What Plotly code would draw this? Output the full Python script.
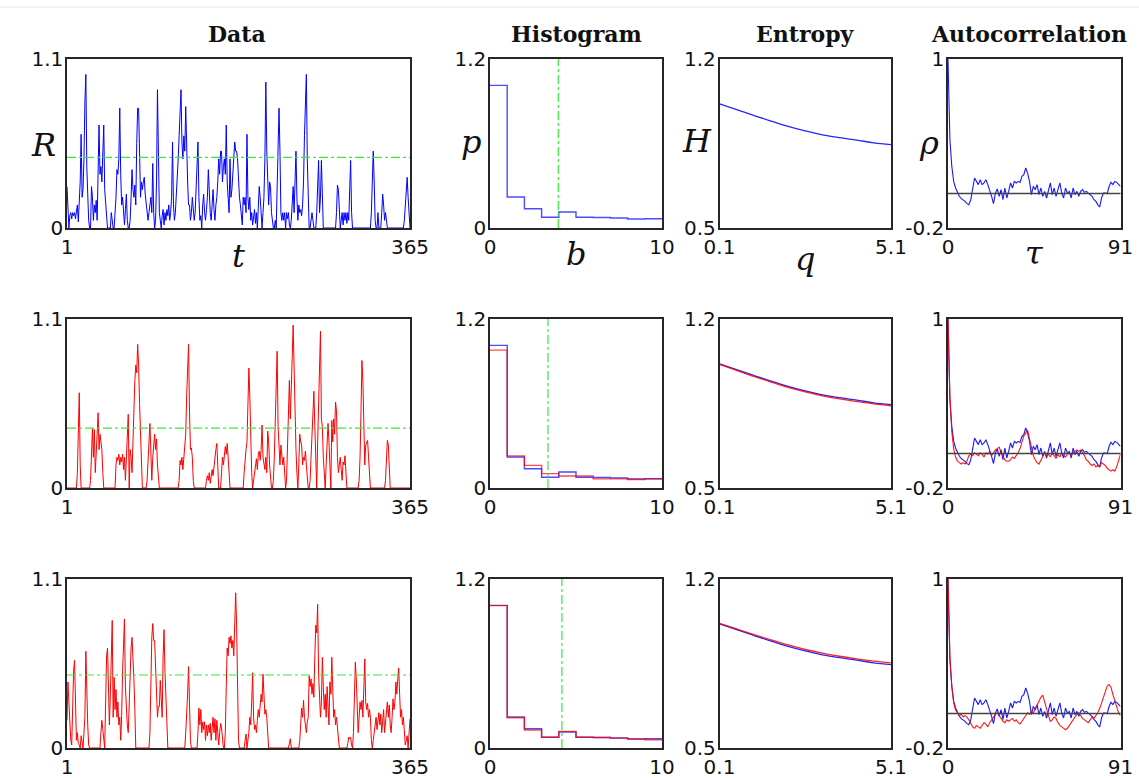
import plotly.graph_objects as go

W, H = 1139, 778

# ---------------- data ----------------
days = list(range(1, 366))

R_observed = [
    0.27, 0.05, 0.0, 0.08, 0.10, 0.06, 0.10, 0.08, 0.10, 0.06,
    0.10, 0.15, 0.04, 0.18, 0.30, 0.61, 0.20, 0.25, 0.45, 0.82,
    1.00, 0.40, 0.15, 0.05, 0.0, 0.0, 0.27, 0.20, 0.05, 0.15,
    0.10, 0.18, 0.05, 0.30, 0.67, 0.35, 0.40, 0.30, 0.55, 0.67,
    0.25, 0.15, 0.05, 0.0, 0.0, 0.0, 0.0, 0.10, 0.02, 0.0,
    0.0, 0.08, 0.20, 0.38, 0.35, 0.45, 0.78, 0.35, 0.15, 0.20,
    0.10, 0.02, 0.12, 0.22, 0.05, 0.0, 0.0, 0.05, 0.20, 0.38,
    0.25, 0.20, 0.28, 0.15, 0.55, 0.78, 0.78, 0.35, 0.20, 0.30,
    0.25, 0.30, 0.33, 0.22, 0.15, 0.10, 0.05, 0.10, 0.15, 0.20,
    0.10, 0.42, 0.10, 0.0, 0.05, 0.30, 0.90, 0.45, 0.10, 0.05,
    0.0, 0.08, 0.12, 0.02, 0.10, 0.05, 0.12, 0.08, 0.15, 0.05,
    0.10, 0.20, 0.56, 0.15, 0.05, 0.10, 0.20, 0.30, 0.45, 0.60,
    0.75, 0.90, 0.55, 0.45, 0.60, 0.50, 0.79, 0.40, 0.30, 0.15,
    0.15, 0.05, 0.10, 0.20, 0.12, 0.05, 0.10, 0.30, 0.45, 0.56,
    0.20, 0.05, 0.08, 0.0, 0.15, 0.22, 0.10, 0.05, 0.12, 0.20,
    0.38, 0.15, 0.10, 0.05, 0.15, 0.25, 0.12, 0.05, 0.15, 0.20,
    0.30, 0.45, 0.35, 0.50, 0.50, 0.30, 0.40, 0.45, 0.35, 0.67,
    0.30, 0.20, 0.10, 0.45, 0.20, 0.25, 0.35, 0.45, 0.56, 0.50,
    0.50, 0.45, 0.30, 0.20, 0.15, 0.10, 0.02, 0.20, 0.15, 0.20,
    0.10, 0.61, 0.20, 0.12, 0.20, 0.05, 0.10, 0.02, 0.08, 0.12,
    0.03, 0.10, 0.0, 0.15, 0.27, 0.20, 0.05, 0.0, 0.10, 0.20,
    0.45, 0.95, 0.50, 0.25, 0.15, 0.30, 0.27, 0.10, 0.02, 0.0,
    0.0, 0.05, 0.0, 0.30, 0.60, 0.78, 0.50, 0.10, 0.05, 0.10,
    0.05, 0.10, 0.0, 0.10, 0.06, 0.10, 0.02, 0.0, 0.05, 0.15,
    0.27, 0.10, 0.30, 0.50, 0.20, 0.05, 0.15, 0.10, 0.12, 0.08,
    0.15, 0.30, 0.60, 0.85, 1.00, 0.45, 0.10, 0.0, 0.0, 0.05,
    0.10, 0.05, 0.0, 0.0, 0.0, 0.10, 0.30, 0.44, 0.10, 0.20,
    0.44, 0.10, 0.0, 0.0, 0.0, 0.0, 0.0, 0.0, 0.0, 0.0,
    0.0, 0.0, 0.0, 0.0, 0.0, 0.0, 0.10, 0.28, 0.25, 0.12,
    0.0, 0.05, 0.10, 0.02, 0.10, 0.05, 0.10, 0.03, 0.10, 0.05,
    0.20, 0.44, 0.10, 0.0, 0.0, 0.0, 0.0, 0.0, 0.0, 0.0,
    0.0, 0.0, 0.0, 0.0, 0.0, 0.0, 0.0, 0.0, 0.0, 0.0,
    0.0, 0.0, 0.0, 0.10, 0.30, 0.50, 0.30, 0.05, 0.0, 0.0,
    0.10, 0.0, 0.0, 0.0, 0.10, 0.22, 0.15, 0.05, 0.10, 0.02,
    0.0, 0.0, 0.0, 0.0, 0.0, 0.0, 0.0, 0.0, 0.0, 0.0,
    0.0, 0.0, 0.0, 0.0, 0.0, 0.0, 0.0, 0.0, 0.05, 0.15,
    0.30, 0.33, 0.20, 0.05, 0.0,
]

R_surrogate_1 = [
    0.0, 0.0, 0.0, 0.0, 0.0, 0.0, 0.0, 0.0, 0.0, 0.0,
    0.0, 0.10, 0.40, 0.62, 0.15, 0.0, 0.0, 0.0, 0.0, 0.0,
    0.0, 0.0, 0.0, 0.0, 0.0, 0.05, 0.30, 0.39, 0.20, 0.38,
    0.10, 0.30, 0.35, 0.49, 0.25, 0.35, 0.30, 0.25, 0.10, 0.0,
    0.0, 0.0, 0.0, 0.0, 0.0, 0.0, 0.0, 0.0, 0.0, 0.0,
    0.0, 0.0, 0.15, 0.20, 0.18, 0.22, 0.15, 0.20, 0.17, 0.22,
    0.12, 0.20, 0.05, 0.20, 0.35, 0.48, 0.0, 0.25, 0.20, 0.10,
    0.30, 0.55, 0.70, 0.80, 0.75, 0.935, 0.80, 0.55, 0.35, 0.10,
    0.0, 0.0, 0.0, 0.0, 0.0, 0.05, 0.25, 0.30, 0.42, 0.20,
    0.05, 0.20, 0.30, 0.35, 0.25, 0.32, 0.15, 0.05, 0.0, 0.0,
    0.0, 0.0, 0.0, 0.0, 0.0, 0.0, 0.0, 0.0, 0.0, 0.0,
    0.0, 0.0, 0.0, 0.0, 0.0, 0.0, 0.0, 0.0, 0.0, 0.05,
    0.18, 0.15, 0.20, 0.12, 0.20, 0.28, 0.35, 0.60, 0.85, 0.935,
    0.50, 0.25, 0.26, 0.20, 0.05, 0.0, 0.0, 0.0, 0.0, 0.0,
    0.0, 0.0, 0.0, 0.0, 0.0, 0.0, 0.0, 0.0, 0.05, 0.08,
    0.05, 0.10, 0.03, 0.10, 0.12, 0.08, 0.15, 0.20, 0.25, 0.29,
    0.10, 0.0, 0.0, 0.0, 0.10, 0.20, 0.15, 0.25, 0.27, 0.22,
    0.29, 0.20, 0.10, 0.0, 0.0, 0.0, 0.0, 0.0, 0.0, 0.0,
    0.0, 0.0, 0.0, 0.0, 0.0, 0.0, 0.0, 0.0, 0.10, 0.20,
    0.25, 0.30, 0.55, 0.78, 0.60, 0.30, 0.10, 0.0, 0.05, 0.10,
    0.15, 0.19, 0.12, 0.22, 0.24, 0.18, 0.25, 0.41, 0.20, 0.15,
    0.12, 0.20, 0.10, 0.37, 0.30, 0.15, 0.05, 0.0, 0.0, 0.05,
    0.20, 0.45, 0.70, 0.89, 0.40, 0.25, 0.15, 0.28, 0.20, 0.15,
    0.20, 0.05, 0.0, 0.05, 0.30, 0.55, 0.70, 0.45, 0.60, 0.85,
    1.06, 0.70, 0.35, 0.25, 0.10, 0.0, 0.15, 0.35, 0.30, 0.28,
    0.15, 0.20, 0.18, 0.24, 0.15, 0.05, 0.0, 0.0, 0.05, 0.20,
    0.35, 0.50, 0.63, 0.40, 0.10, 0.0, 0.30, 0.60, 0.85, 1.02,
    0.45, 0.40, 0.20, 0.05, 0.0, 0.15, 0.35, 0.42, 0.30, 0.10,
    0.0, 0.44, 0.30, 0.45, 0.35, 0.56, 0.50, 0.20, 0.10, 0.15,
    0.20, 0.12, 0.05, 0.17, 0.15, 0.21, 0.10, 0.0, 0.0, 0.0,
    0.0, 0.0, 0.0, 0.0, 0.0, 0.0, 0.0, 0.0, 0.0, 0.0,
    0.05, 0.20, 0.50, 0.83, 0.70, 0.30, 0.15, 0.28, 0.30, 0.31,
    0.20, 0.05, 0.0, 0.0, 0.0, 0.0, 0.0, 0.0, 0.0, 0.0,
    0.0, 0.0, 0.0, 0.0, 0.0, 0.0, 0.0, 0.0, 0.05, 0.20,
    0.31, 0.28, 0.15, 0.0, 0.0, 0.0, 0.0, 0.0, 0.0, 0.0,
    0.0, 0.0, 0.0, 0.0, 0.0, 0.0, 0.0, 0.0, 0.0, 0.0,
    0.0, 0.0, 0.0, 0.0, 0.0,
]

R_surrogate_2 = [
    0.18, 0.43, 0.30, 0.12, 0.05, 0.02, 0.30, 0.50, 0.57, 0.30,
    0.05, 0.10, 0.03, 0.02, 0.0, 0.08, 0.05, 0.0, 0.10, 0.20,
    0.63, 0.35, 0.15, 0.02, 0.0, 0.0, 0.0, 0.0, 0.0, 0.0,
    0.0, 0.0, 0.0, 0.0, 0.0, 0.0, 0.10, 0.18, 0.12, 0.05,
    0.0, 0.30, 0.60, 0.65, 0.30, 0.15, 0.35, 0.60, 0.83, 0.20,
    0.46, 0.25, 0.38, 0.20, 0.30, 0.15, 0.20, 0.05, 0.21, 0.50,
    0.75, 0.84, 0.40, 0.20, 0.15, 0.10, 0.30, 0.55, 0.65, 0.72,
    0.50, 0.45, 0.25, 0.0, 0.0, 0.0, 0.0, 0.0, 0.0, 0.0,
    0.0, 0.0, 0.0, 0.0, 0.0, 0.0, 0.0, 0.0, 0.10, 0.50,
    0.72, 0.81, 0.70, 0.70, 0.50, 0.30, 0.20, 0.27, 0.27, 0.44,
    0.30, 0.20, 0.60, 0.77, 0.49, 0.30, 0.05, 0.0, 0.0, 0.0,
    0.0, 0.0, 0.0, 0.0, 0.0, 0.0, 0.0, 0.0, 0.0, 0.0,
    0.0, 0.0, 0.0, 0.0, 0.0, 0.0, 0.10, 0.19, 0.35, 0.53,
    0.20, 0.05, 0.0, 0.0, 0.0, 0.0, 0.0, 0.0, 0.0, 0.10,
    0.26, 0.15, 0.25, 0.10, 0.17, 0.12, 0.17, 0.05, 0.15, 0.08,
    0.15, 0.10, 0.16, 0.05, 0.12, 0.20, 0.10, 0.19, 0.05, 0.18,
    0.10, 0.02, 0.10, 0.16, 0.13, 0.05, 0.0, 0.0, 0.10, 0.40,
    0.65, 0.60, 0.72, 0.68, 0.73, 0.65, 0.70, 0.60, 0.85, 1.01,
    0.80, 0.50, 0.05, 0.0, 0.0, 0.0, 0.0, 0.0, 0.0, 0.05,
    0.09, 0.0, 0.05, 0.10, 0.20, 0.15, 0.30, 0.49, 0.20, 0.12,
    0.15, 0.10, 0.18, 0.25, 0.20, 0.30, 0.35, 0.30, 0.48, 0.35,
    0.22, 0.25, 0.20, 0.10, 0.0, 0.0, 0.0, 0.0, 0.0, 0.0,
    0.0, 0.0, 0.0, 0.0, 0.0, 0.0, 0.0, 0.0, 0.0, 0.0,
    0.0, 0.0, 0.0, 0.0, 0.0, 0.0, 0.03, 0.06, 0.0, 0.0,
    0.0, 0.0, 0.0, 0.0, 0.0, 0.0, 0.0, 0.05, 0.15, 0.26,
    0.20, 0.31, 0.20, 0.13, 0.10, 0.17, 0.20, 0.47, 0.40, 0.45,
    0.35, 0.42, 0.33, 0.60, 0.80, 0.75, 0.935, 0.48, 0.35, 0.20,
    0.30, 0.59, 0.40, 0.25, 0.35, 0.20, 0.40, 0.30, 0.15, 0.43,
    0.35, 0.59, 0.30, 0.20, 0.25, 0.15, 0.20, 0.12, 0.05, 0.0,
    0.0, 0.0, 0.0, 0.0, 0.0, 0.0, 0.0, 0.0, 0.03, 0.07,
    0.06, 0.07, 0.02, 0.0, 0.10, 0.35, 0.56, 0.45, 0.30, 0.10,
    0.20, 0.30, 0.25, 0.31, 0.20, 0.35, 0.58, 0.30, 0.25, 0.29,
    0.20, 0.25, 0.20, 0.05, 0.0, 0.05, 0.10, 0.15, 0.20, 0.12,
    0.18, 0.23, 0.15, 0.22, 0.10, 0.18, 0.25, 0.10, 0.17, 0.26,
    0.30, 0.20, 0.28, 0.15, 0.10, 0.20, 0.32, 0.25, 0.30, 0.43,
    0.35, 0.45, 0.52, 0.35, 0.20, 0.25, 0.15, 0.20, 0.10, 0.02,
    0.05, 0.08, 0.0, 0.12, 0.19,
]

R_threshold = [0.46, 0.39, 0.475]

bin_edges = [0, 1, 2, 3, 4, 5, 6, 7, 8, 9, 10]
p_observed = [1.013, 0.220, 0.137, 0.076, 0.114, 0.076, 0.075, 0.071, 0.064, 0.066]
p_surrogate_1 = [0.979, 0.228, 0.161, 0.102, 0.085, 0.085, 0.065, 0.065, 0.060, 0.065]
p_surrogate_2 = [1.011, 0.215, 0.128, 0.076, 0.118, 0.076, 0.075, 0.070, 0.064, 0.059]
b_marker = [3.97, 3.37, 4.18]

q_values = [0.1, 0.6, 1.1, 1.6, 2.1, 2.6, 3.1, 3.6, 4.1, 4.6, 5.1]
H_observed = [1.014, 0.990, 0.966, 0.943, 0.921, 0.902, 0.886, 0.874, 0.864, 0.853, 0.845]
H_surrogate_1 = [1.012, 0.987, 0.962, 0.939, 0.917, 0.898, 0.882, 0.869, 0.858, 0.848, 0.840]
H_surrogate_2 = [1.016, 0.993, 0.970, 0.948, 0.927, 0.908, 0.893, 0.880, 0.869, 0.860, 0.853]

lags = list(range(0, 92))
rho_observed = [
    1.0, 0.427, 0.238, 0.131, 0.084, 0.048, 0.025, 0.008, 0.001, -0.011,
    -0.027, -0.034, 0.0, 0.096, 0.155, 0.131, 0.108, 0.143, 0.108, 0.12,
    0.143, 0.108, 0.072, 0.025, -0.027, 0.048, 0.077, 0.025, 0.072, 0.001,
    0.084, 0.013, 0.06, 0.12, 0.084, 0.131, 0.12, 0.131, 0.124, 0.167,
    0.179, 0.226, 0.19, 0.131, 0.037, 0.096, 0.072, 0.108, 0.037, 0.084,
    0.025, 0.06, 0.013, 0.072, 0.12, 0.037, 0.084, 0.025, 0.072, 0.12,
    0.048, 0.013, 0.084, 0.048, 0.06, 0.013, 0.084, 0.037, 0.06, 0.025,
    0.06, 0.072, 0.053, 0.06, 0.048, 0.037, 0.025, 0.001, -0.011, -0.034,
    -0.051, 0.013, 0.048, 0.048, 0.044, 0.096, 0.124, 0.108, 0.131, 0.124,
    0.108, 0.096,
]
rho_surrogate_1 = [
    1.0, 0.45, 0.2, 0.08, 0.02, -0.01, -0.02, -0.03, -0.02, -0.03,
    -0.01, 0.03, 0.04, 0.03, 0.05, 0.04, 0.03, 0.05, 0.04, 0.02,
    0.05, 0.04, 0.06, 0.03, 0.05, 0.07, 0.08, 0.09, 0.05, 0.02,
    0.0, -0.01, -0.01, 0.0, 0.02, 0.01, 0.03, 0.05, 0.08, 0.12,
    0.17, 0.19, 0.21, 0.15, 0.08, 0.03, 0.0, -0.02, -0.03, 0.0,
    0.03, 0.05, 0.03, 0.04, 0.02, 0.05, 0.03, 0.01, 0.04, 0.02,
    0.05, 0.03, 0.02, 0.04, 0.05, 0.03, 0.05, 0.06, 0.07, 0.06,
    0.07, 0.05, 0.03, 0.0, -0.01, -0.03, -0.04, -0.03, -0.05, -0.04,
    -0.05, -0.02, -0.03, -0.04, -0.06, -0.07, -0.08, -0.07, -0.08, -0.05,
    0.0, 0.04,
]
rho_surrogate_2 = [
    1.0, 0.45, 0.24, 0.12, 0.07, 0.05, 0.03, 0.04, 0.02, 0.03,
    0.02, 0.0, -0.03, -0.05, -0.06, -0.04, -0.05, -0.06, -0.04, -0.02,
    -0.03, -0.05, -0.02, 0.0, 0.02, 0.04, 0.05, 0.03, 0.01, -0.01,
    -0.02, 0.0, -0.01, 0.0, 0.01, -0.01, 0.0, -0.02, -0.03, -0.01,
    0.01, 0.03, 0.05, 0.04, 0.06, 0.05, 0.08, 0.11, 0.14, 0.16,
    0.176, 0.12, 0.07, 0.03, -0.01, 0.0, 0.02, 0.01, -0.02, -0.04,
    -0.05, -0.06, -0.07, -0.06, -0.04, -0.02, 0.0, 0.02, 0.04, 0.05,
    0.03, 0.01, 0.0, -0.01, -0.02, 0.0, 0.02, 0.01, 0.03, 0.05,
    0.08, 0.12, 0.15, 0.2, 0.24, 0.25, 0.23, 0.18, 0.13, 0.08,
    0.05, 0.03,
]
rho_reference = 0.045

column_titles = ["Data", "Histogram", "Entropy", "Autocorrelation"]
x_symbols = ["t", "b", "q", "\u03c4"]
y_symbols = ["R", "p", "H", "\u03c1"]
x_ranges = [[1, 365], [0, 10], [0.1, 5.1], [0, 91]]
y_ranges = [[0, 1.1], [0, 1.2], [0.5, 1.2], [-0.2, 1]]
x_ticktext = [["1", "365"], ["0", "10"], ["0.1", "5.1"], ["0", "91"]]
y_ticktext = [["0", "1.1"], ["0", "1.2"], ["0.5", "1.2"], ["-0.2", "1"]]

# ---------------- layout geometry (page pixels) ----------------
col_px = [(67, 410), (490, 662), (719.5, 891), (948, 1120.5)]
row_px = [(59, 228), (319, 488), (579, 748)]


def fx(px):
    return px / W


def fy(py):
    return 1 - py / H


BLUE = "#0000ff"
RED = "#ff0000"
GREEN = "#33ee33"
FRAME = "#262626"
TICKFONT = dict(family="DejaVu Sans", size=20, color="#111111")

fig = go.Figure()
layout = dict(
    template="none",
    width=W, height=H, autosize=False,
    margin=dict(l=0, r=0, t=0, b=0, pad=0, autoexpand=False),
    paper_bgcolor="white", plot_bgcolor="white",
    showlegend=False,
)
shapes = []
annotations = []


def ax_name(r, c):
    k = r * 4 + c + 1
    return ("x" if k == 1 else f"x{k}"), ("y" if k == 1 else f"y{k}"), k


for r in range(3):
    for c in range(4):
        xn, yn, k = ax_name(r, c)
        x0, x1 = col_px[c]
        yt, yb = row_px[r]
        xkey = "xaxis" if k == 1 else f"xaxis{k}"
        ykey = "yaxis" if k == 1 else f"yaxis{k}"
        layout[xkey] = dict(
            domain=[fx(x0), fx(x1)], anchor=yn, range=x_ranges[c],
            tickmode="array", tickvals=x_ranges[c], ticktext=x_ticktext[c],
            showline=True, mirror=True, linecolor=FRAME, linewidth=1.5,
            showgrid=False, zeroline=False, ticks="", tickfont=TICKFONT,
            ticklabelstandoff=0, ticklabeloverflow="allow",
            fixedrange=True, automargin=False,
        )
        layout[ykey] = dict(
            domain=[fy(yb), fy(yt)], anchor=xn, range=y_ranges[c],
            tickmode="array", tickvals=y_ranges[c], ticktext=y_ticktext[c],
            showline=True, mirror=True, linecolor=FRAME, linewidth=1.5,
            showgrid=False, zeroline=False, ticks="", tickfont=TICKFONT,
            ticklabelstandoff=-2, ticklabeloverflow="allow",
            fixedrange=True, automargin=False,
        )

series_R = [(R_observed, BLUE), (R_surrogate_1, RED), (R_surrogate_2, RED)]
hists = [[p_observed], [p_observed, p_surrogate_1], [p_observed, p_surrogate_2]]
ents = [[H_observed], [H_observed, H_surrogate_1], [H_observed, H_surrogate_2]]
acfs = [[rho_observed], [rho_observed, rho_surrogate_1], [rho_observed, rho_surrogate_2]]
cols = [BLUE, RED]


def add(x, y, r, c, color, width=1.0, shape="linear", opacity=1.0, dash="solid"):
    xn, yn, _ = ax_name(r, c)
    fig.add_trace(go.Scatter(
        x=x, y=y, xaxis=xn, yaxis=yn, mode="lines",
        line=dict(color=color, width=width, shape=shape, dash=dash),
        opacity=opacity, hoverinfo="skip", showlegend=False,
    ))


for r in range(3):
    # Data panel
    vals, color = series_R[r]
    add(days, vals, r, 0, color, 1.0)
    add([days[0], days[-1]], [R_threshold[r], R_threshold[r]], r, 0, GREEN, 1.2,
        dash="dashdot")

    # Histogram panel
    for i, pv in enumerate(hists[r]):
        add(bin_edges, pv + [pv[-1]], r, 1, cols[i], 1.4, "hv", 0.7)
    xn, yn, _ = ax_name(r, 1)
    shapes.append(dict(type="line", xref=xn, yref=f"{yn} domain",
                       x0=b_marker[r], x1=b_marker[r], y0=0, y1=1,
                       line=dict(color=GREEN, width=1.2, dash="dashdot")))

    # Entropy panel
    for i, hv in enumerate(ents[r]):
        add(q_values, hv, r, 2, cols[i], 1.3, "spline", 0.85)

    # Autocorrelation panel
    for i, rv in enumerate(acfs[r]):
        add(lags, rv, r, 3, cols[i], 1.1, "linear", 0.9)
    xn, yn, _ = ax_name(r, 3)
    shapes.append(dict(type="line", xref=f"{xn} domain", yref=yn,
                       x0=0, x1=1, y0=rho_reference, y1=rho_reference,
                       line=dict(color="#444444", width=1.6)))

# faint rule near the very top
shapes.append(dict(type="line", xref="paper", yref="paper", x0=0, x1=1,
                   y0=fy(7), y1=fy(7), line=dict(color="#e8e8e8", width=1)))

# column titles (page x centres)
title_x = [237, 576, 805, 1029]
for c in range(4):
    annotations.append(dict(
        text=f"<b>{column_titles[c]}</b>", xref="paper", yref="paper",
        x=fx(title_x[c]), y=fy(34), showarrow=False,
        xanchor="center", yanchor="middle",
        font=dict(family="DejaVu Serif", size=22, color="#111111"),
    ))

# axis symbols on first row
ylab_x = [43, 471, 697, 929]
ylab_y = [145, 142, 141, 143]
xlab_y = [256, 254, 259, 253]
for c in range(4):
    x0, x1 = col_px[c]
    annotations.append(dict(
        text=f"<i>{y_symbols[c]}</i>", xref="paper", yref="paper",
        x=fx(ylab_x[c]), y=fy(ylab_y[c]), showarrow=False,
        xanchor="center", yanchor="middle",
        font=dict(family="DejaVu Serif", size=32, color="#111111"),
    ))
    annotations.append(dict(
        text=f"<i>{x_symbols[c]}</i>", xref="paper", yref="paper",
        x=fx((x0 + x1) / 2), y=fy(xlab_y[c]), showarrow=False,
        xanchor="center", yanchor="middle",
        font=dict(family="DejaVu Serif", size=32, color="#111111"),
    ))

layout["shapes"] = shapes
layout["annotations"] = annotations
fig.update_layout(**layout)

# remove the browser's default 8px body margin so the figure fills the window
fig.write_html(
    "out.html",
    config={"displayModeBar": False},
    post_script="document.body.style.margin='0px';"
                "document.documentElement.style.overflow='hidden';",
)
